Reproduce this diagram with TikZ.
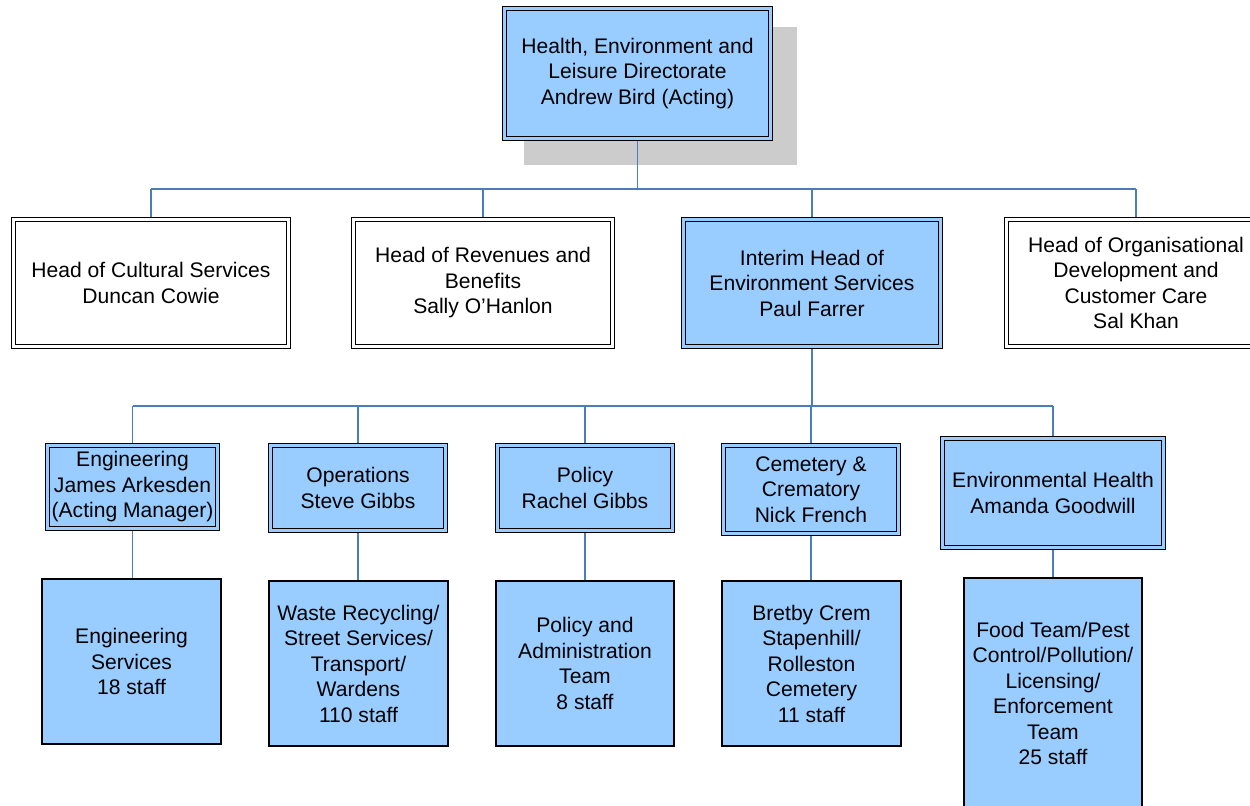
\documentclass[tikz,border=0pt]{standalone}
\usepackage{fontspec}
\setmainfont{Liberation Sans}
\definecolor{boxblue}{RGB}{153,204,255}
\definecolor{linkblue}{RGB}{74,126,187}
\definecolor{shadowgrey}{RGB}{204,204,204}

\begin{document}
\begin{tikzpicture}[x=0.02cm,y=-0.02cm,
		every node/.style={font=\fontsize{12}{14.5}\selectfont,align=center,inner sep=0pt},
		headbox/.style={draw=black,line width=0.75pt,double=white,double distance=1.5pt,outer sep=1.5pt,fill=white},
		headfill/.style={headbox,double=boxblue,fill=boxblue},
		teambox/.style={draw=black,line width=1pt,fill=boxblue},
		shadowbox/.style={fill=shadowgrey},
		link/.style={draw=linkblue,line width=1pt}]
	\useasboundingbox (0,0) rectangle (1250,805);
	\node[shadowbox,minimum width=5.46cm,minimum height=2.76cm] (dirshadow) at (660.5,96) {};
	\node[headfill,minimum width=5.32cm,minimum height=2.6cm] (directorate) at (637.5,73.5)
		{Health, Environment and\\Leisure Directorate\\Andrew Bird (Acting)};
	\node[headbox,minimum width=5.5cm,minimum height=2.54cm] (cultural) at (151,283)
		{Head of Cultural Services\\Duncan Cowie};
	\node[headbox,minimum width=5.18cm,minimum height=2.54cm] (revenues) at (483,283)
		{Head of Revenues and\\Benefits\\Sally O’Hanlon};
	\node[headfill,minimum width=5.14cm,minimum height=2.54cm] (environment) at (812,283)
		{Interim Head of\\Environment Services\\Paul Farrer};
	\node[headbox,minimum width=5.18cm,minimum height=2.54cm] (orgdev) at (1136,283)
		{Head of Organisational\\Development and\\Customer Care\\Sal Khan};
	\node[headfill,minimum width=3.4cm,minimum height=1.66cm] (engineering) at (132.5,487)
		{Engineering\\James Arkesden\\(Acting Manager)};
	\node[headfill,minimum width=3.5cm,minimum height=1.7cm] (operations) at (358,488)
		{Operations\\Steve Gibbs};
	\node[headfill,minimum width=3.5cm,minimum height=1.7cm] (policy) at (585,488)
		{Policy\\Rachel Gibbs};
	\node[headfill,minimum width=3.5cm,minimum height=1.76cm] (cemetery) at (811,489.5)
		{Cemetery \&\\Crematory\\Nick French};
	\node[headfill,minimum width=4.42cm,minimum height=2.18cm] (envhealth) at (1053,493)
		{Environmental Health\\Amanda Goodwill};
	\node[teambox,minimum width=3.58cm,minimum height=3.3cm] (engstaff) at (131.5,661.5)
		{Engineering\\Services\\18 staff};
	\node[teambox,minimum width=3.58cm,minimum height=3.3cm] (wastestaff) at (358.5,663.5)
		{Waste Recycling/\\Street Services/\\Transport/\\Wardens\\110 staff};
	\node[teambox,minimum width=3.56cm,minimum height=3.3cm] (policystaff) at (585,663.5)
		{Policy and\\Administration\\Team\\8 staff};
	\node[teambox,minimum width=3.58cm,minimum height=3.3cm] (cemstaff) at (811.5,663.5)
		{Bretby Crem\\Stapenhill/\\Rolleston\\Cemetery\\11 staff};
	\node[teambox,minimum width=3.56cm,minimum height=4.62cm] (foodstaff) at (1053,693.5)
		{Food Team/Pest\\Control/Pollution/\\Licensing/\\Enforcement\\Team\\25 staff};
	\coordinate (bustop) at (0,189);
	\coordinate (busmid) at (0,406);
	\draw[link] (directorate.south) -- (directorate.south |- bustop);
	\draw[link] (cultural.north |- bustop) -- (orgdev.north |- bustop);
	\foreach \n in {cultural,revenues,environment,orgdev}
		\draw[link] (\n.north |- bustop) -- (\n.north);
	\draw[link] (environment.south) -- (environment.south |- busmid);
	\draw[link] (engineering.north |- busmid) -- (envhealth.north |- busmid);
	\foreach \n in {engineering,operations,policy,cemetery,envhealth}
		\draw[link] (\n.north |- busmid) -- (\n.north);
	\foreach \a/\b in {engineering/engstaff,operations/wastestaff,policy/policystaff,cemetery/cemstaff,envhealth/foodstaff}
		\draw[link] (\a.south) -- (\a.south |- \b.north);
\end{tikzpicture}
\end{document}
